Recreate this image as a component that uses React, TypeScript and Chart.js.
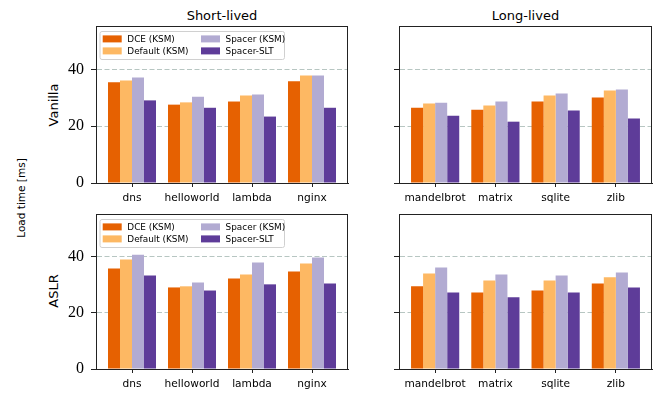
import React, { useEffect, useRef } from 'react';
import { Chart, registerables } from 'chart.js';

Chart.register(...registerables);

// ---------- data ----------
const seriesNames = ['DCE (KSM)', 'Default (KSM)', 'Spacer (KSM)', 'Spacer-SLT'];
const seriesColors = ['#e66101', '#fdb863', '#b2abd2', '#5e3c99'];

const shortCats = ['dns', 'helloworld', 'lambda', 'nginx'];
const longCats = ['mandelbrot', 'matrix', 'sqlite', 'zlib'];

const yTicks = [0, 20, 40];
const yMax = 55.3;

// Vanilla / Short-lived
const vanShortDCE = [35.5, 27.6, 28.7, 35.8];
const vanShortDefault = [36.1, 28.4, 30.8, 37.9];
const vanShortSpacer = [37.2, 30.4, 31.2, 37.9];
const vanShortSLT = [29.1, 26.5, 23.4, 26.5];

// Vanilla / Long-lived
const vanLongDCE = [26.5, 25.8, 28.7, 30.1];
const vanLongDefault = [28.0, 27.3, 30.8, 32.6];
const vanLongSpacer = [28.3, 28.7, 31.5, 32.9];
const vanLongSLT = [23.7, 21.6, 25.5, 22.7];

// ASLR / Short-lived
const aslrShortDCE = [35.9, 29.1, 32.3, 34.8];
const aslrShortDefault = [39.1, 29.5, 33.7, 37.6];
const aslrShortSpacer = [40.8, 30.9, 38.0, 39.8];
const aslrShortSLT = [33.4, 28.0, 30.2, 30.5];

// ASLR / Long-lived
const aslrLongDCE = [29.5, 27.3, 28.0, 30.5];
const aslrLongDefault = [34.1, 31.6, 31.6, 32.7];
const aslrLongSpacer = [36.2, 33.7, 33.4, 34.4];
const aslrLongSLT = [27.3, 25.6, 27.3, 29.1];

// ---------- style ----------
const SPINE = '#222222';
const GRID = '#b7c6c2';
const AXW = 40;
const PADT = 6;
const PADR = 2;
const AXH = 28;

type Area = { l: number; t: number; r: number; b: number };
type PanelProps = {
  cats: string[];
  series: number[][];
  area: Area;
  legend: boolean;
  yLabels: boolean;
};

function Panel({ cats, series, area, legend, yLabels }: PanelProps) {
  const ref = useRef<HTMLCanvasElement | null>(null);
  const w = area.r - area.l + AXW + PADR;
  const h = area.b - area.t + PADT + AXH;

  useEffect(() => {
    if (!ref.current) return;

    const spines = {
      id: 'spines',
      afterDatasetsDraw(chart: any) {
        const { ctx, chartArea: a } = chart;
        ctx.save();
        ctx.strokeStyle = SPINE;
        ctx.lineWidth = 1;
        ctx.strokeRect(a.left + 0.5, a.top + 0.5, a.right - a.left - 1, a.bottom - a.top);
        ctx.restore();
      },
    };

    const boxLegend = {
      id: 'boxLegend',
      afterDraw(chart: any) {
        if (!legend) return;
        const { ctx, chartArea: a } = chart;
        const x0 = a.left + 4;
        const y0 = a.top + 5.5;
        const fw = 184.5;
        const fh = 28;
        const r = 2;
        ctx.save();
        ctx.beginPath();
        ctx.moveTo(x0 + r, y0);
        ctx.lineTo(x0 + fw - r, y0);
        ctx.quadraticCurveTo(x0 + fw, y0, x0 + fw, y0 + r);
        ctx.lineTo(x0 + fw, y0 + fh - r);
        ctx.quadraticCurveTo(x0 + fw, y0 + fh, x0 + fw - r, y0 + fh);
        ctx.lineTo(x0 + r, y0 + fh);
        ctx.quadraticCurveTo(x0, y0 + fh, x0, y0 + fh - r);
        ctx.lineTo(x0, y0 + r);
        ctx.quadraticCurveTo(x0, y0, x0 + r, y0);
        ctx.closePath();
        ctx.fillStyle = 'rgba(255,255,255,0.85)';
        ctx.fill();
        ctx.strokeStyle = '#d0d0d0';
        ctx.lineWidth = 1;
        ctx.stroke();
        ctx.font = '8.9px "DejaVu Sans"';
        ctx.textBaseline = 'middle';
        ctx.textAlign = 'left';
        chart.data.datasets.forEach((ds: any, i: number) => {
          const col = Math.floor(i / 2);
          const row = i % 2;
          const hx = x0 + 2.7 + col * 98.3;
          const cy = y0 + 7.4 + row * 12;
          ctx.fillStyle = ds.backgroundColor;
          ctx.fillRect(hx, cy - 3.5, 19, 7);
          ctx.fillStyle = '#000';
          ctx.fillText(ds.label, hx + 24.6, cy + 0.5);
        });
        ctx.restore();
      },
    };

    const chart = new Chart(ref.current, {
      type: 'bar',
      data: {
        datasets: series.map((vals, si) => ({
          label: seriesNames[si],
          data: vals.map((y, i) => ({ x: i, y })),
          backgroundColor: seriesColors[si],
          borderWidth: 0,
          categoryPercentage: 0.8,
          barPercentage: 1.0,
        })),
      },
      options: {
        responsive: false,
        animation: false,
        events: [],
        layout: { padding: { top: PADT, right: PADR, left: 0, bottom: 0 } },
        plugins: { legend: { display: false }, tooltip: { enabled: false } },
        scales: {
          x: {
            type: 'linear',
            min: -0.6,
            max: cats.length - 0.4,
            offset: false,
            afterBuildTicks: (s: any) => {
              s.ticks = cats.map((_, i) => ({ value: i }));
            },
            afterFit: (s: any) => {
              s.height = AXH;
              s.paddingLeft = 0;
              s.paddingRight = 0;
            },
            ticks: {
              autoSkip: false,
              maxRotation: 0,
              minRotation: 0,
              padding: 5,
              color: '#000',
              font: { family: '"DejaVu Sans"', size: 10.6 },
              callback: (v: any) => cats[Math.round(Number(v))] ?? '',
            },
            grid: {
              display: true,
              offset: false,
              drawOnChartArea: false,
              drawTicks: true,
              tickLength: 4,
              tickColor: SPINE,
              color: SPINE,
            },
            border: { display: true, color: SPINE, width: 1 },
          },
          y: {
            type: 'linear',
            min: 0,
            max: yMax,
            afterBuildTicks: (s: any) => {
              s.ticks = yTicks.map((v) => ({ value: v }));
            },
            afterFit: (s: any) => {
              s.width = AXW;
              s.paddingTop = 0;
              s.paddingBottom = 0;
            },
            ticks: {
              display: yLabels,
              padding: 7,
              color: '#000',
              font: { family: '"Liberation Serif", "DejaVu Serif", serif', size: 16 },
              callback: (v: any) => String(v),
            },
            grid: {
              display: true,
              drawOnChartArea: true,
              drawTicks: true,
              tickLength: 5,
              tickColor: SPINE,
              lineWidth: 1,
              color: (c: any) => (c.tick && c.tick.value === 0 ? 'rgba(0,0,0,0)' : GRID),
            },
            border: { display: true, color: SPINE, width: 1, dash: [5, 2.5] },
          },
        },
      },
      plugins: [spines, boxLegend],
    } as any);

    return () => chart.destroy();
  }, []);

  return (
    <canvas
      ref={ref}
      width={w}
      height={h}
      style={{
        position: 'absolute',
        left: area.l - AXW,
        top: area.t - PADT,
        width: w,
        height: h,
      }}
    />
  );
}

const textBase: React.CSSProperties = {
  position: 'absolute',
  fontFamily: '"DejaVu Sans"',
  color: '#000',
  whiteSpace: 'nowrap',
  lineHeight: 1,
};

function RotLabel({ x, y, size, text }: { x: number; y: number; size: number; text: string }) {
  return (
    <div
      style={{
        ...textBase,
        left: x,
        top: y,
        fontSize: size,
        lineHeight: `${size}px`,
        transform: 'translate(-50%, -50%) rotate(-90deg)',
      }}
    >
      {text}
    </div>
  );
}

export default function App() {
  return (
    <div
      style={{
        position: 'fixed',
        left: 0,
        top: 0,
        width: 654,
        height: 394,
        background: '#fff',
        overflow: 'hidden',
      }}
    >
      <div style={{ ...textBase, left: 96, width: 252, top: 9, fontSize: 13, lineHeight: '13px', textAlign: 'center' }}>
        Short-lived
      </div>
      <div style={{ ...textBase, left: 399, width: 253, top: 9, fontSize: 13, lineHeight: '13px', textAlign: 'center' }}>
        Long-lived
      </div>
      <RotLabel x={53} y={105} size={13} text="Vanilla" />
      <RotLabel x={53} y={291} size={13} text="ASLR" />
      <RotLabel x={21} y={198} size={10.5} text="Load time [ms]" />

      <Panel
        cats={shortCats}
        series={[vanShortDCE, vanShortDefault, vanShortSpacer, vanShortSLT]}
        area={{ l: 96, t: 26, r: 348, b: 183 }}
        legend={true}
        yLabels={true}
      />
      <Panel
        cats={longCats}
        series={[vanLongDCE, vanLongDefault, vanLongSpacer, vanLongSLT]}
        area={{ l: 399, t: 26, r: 652, b: 183 }}
        legend={false}
        yLabels={false}
      />
      <Panel
        cats={shortCats}
        series={[aslrShortDCE, aslrShortDefault, aslrShortSpacer, aslrShortSLT]}
        area={{ l: 96, t: 214, r: 348, b: 369 }}
        legend={true}
        yLabels={true}
      />
      <Panel
        cats={longCats}
        series={[aslrLongDCE, aslrLongDefault, aslrLongSpacer, aslrLongSLT]}
        area={{ l: 399, t: 214, r: 652, b: 369 }}
        legend={false}
        yLabels={false}
      />
    </div>
  );
}
